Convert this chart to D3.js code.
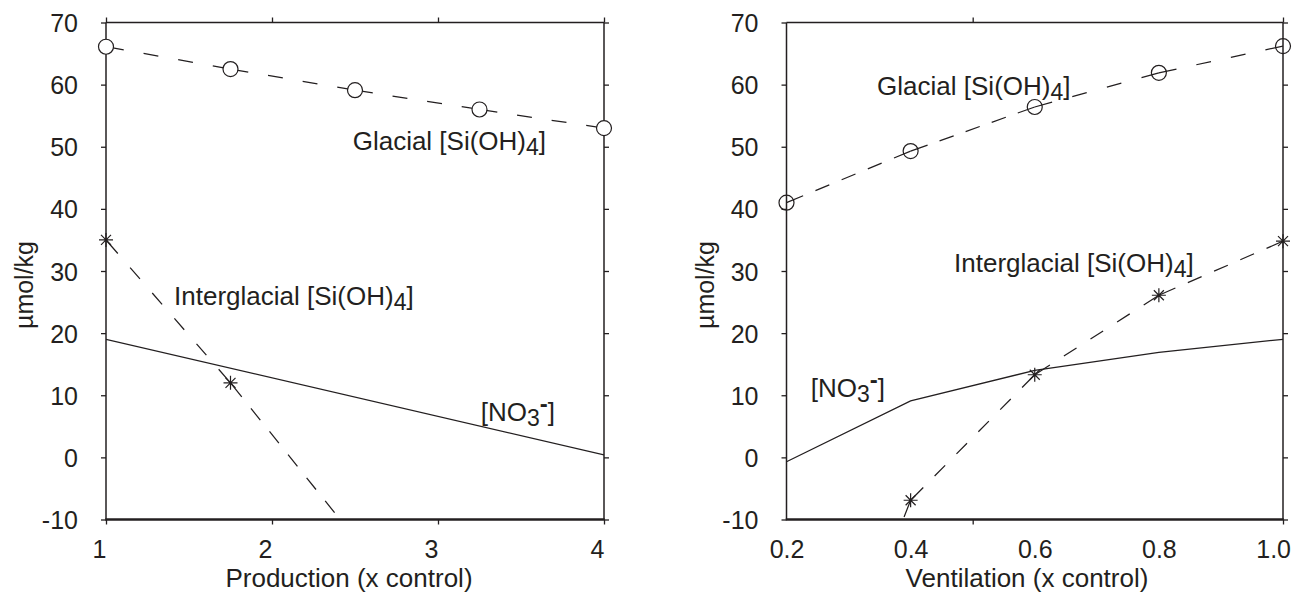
<!DOCTYPE html>
<html>
<head>
<meta charset="utf-8">
<script src="https://cdn.jsdelivr.net/npm/d3@7"></script>
<style>
  html, body { margin: 0; padding: 0; background: #fff; }
  svg { display: block; }
  text { font-family: "Liberation Sans", Arial, Helvetica, sans-serif; fill: #231f20; }
</style>
</head>
<body>
<svg id="chart" width="1292" height="594"></svg>
<script>
// ---- Production experiment ----
const productionX = [1, 1.75, 2.5, 3.25, 4];
const prodGlacial = [66.1, 62.5, 59.1, 56.0, 53.0];
const prodInterglacialX = [1, 1.75, 2.5];
const prodInterglacial = [35, 12, -13];
const prodNitrateX = [1, 4];
const prodNitrate = [19, 0.4];
const prodTicks = [1, 2, 3, 4];

// ---- Ventilation experiment ----
const ventilationX = [0.2, 0.4, 0.6, 0.8, 1.0];
const ventGlacial = [41.0, 49.3, 56.4, 61.9, 66.2];
const ventInterglacial = [-58, -6.9, 13.3, 26.1, 34.8];
const ventNitrate = [-0.7, 9.1, 14.0, 16.9, 19.0];
const ventTickLabels = [0.2, 0.4, 0.6, 0.8, 1.0];
const ventTickMarks = [0.5, 1.0];

// ---- shared concentration axis ----
const yTicks = [-10, 0, 10, 20, 30, 40, 50, 60, 70];
const yDomain = [-10, 70];
const yTitle = "\u00b5mol/kg";

// curve labels: text pieces (plain / sub / sup) placed in data coordinates
const siLabel = (prefix) => [[prefix + " [Si(OH)", ""], ["4", "sub"], ["]", "back"]];
const no3Label = [["[NO", ""], ["3", "sub"], ["-", "sup"], ["]", "back2"]];
const prodLabels = [
  { parts: siLabel("Glacial"), x: 2.486, y: 49.4 },
  { parts: siLabel("Interglacial"), x: 1.41, y: 24.5 },
  { parts: no3Label, x: 3.257, y: 5.9 }
];
const ventLabels = [
  { parts: siLabel("Glacial"), x: 0.346, y: 58.3 },
  { parts: siLabel("Interglacial"), x: 0.470, y: 29.9 },
  { parts: no3Label, x: 0.239, y: 9.7 }
];

const ink = "#231f20";
const TOP = 22.5, BOTTOM = 519.5, WIDTH = 1292;
const svg = d3.select("#chart");
const hyphenMinus = f => v => f(v).replace("\u2212", "-");

const panels = [
  {
    id: "prod", left: 106, right: 604, xDomain: [1, 4],
    tickMarks: prodTicks, tickLabels: prodTicks, fmt: d3.format("d"), labelShift: -7,
    title: "Production (x control)", titleX: 349, yTitleX: 33,
    markerFill: "#fff",
    series: [
      { x: productionX, y: prodGlacial, dashed: true, marker: "circle" },
      { x: prodInterglacialX, y: prodInterglacial, dashed: true, marker: "star" },
      { x: prodNitrateX, y: prodNitrate, dashed: false, marker: null }
    ],
    labels: prodLabels
  },
  {
    id: "vent", left: 786.5, right: 1283, xDomain: [0.2, 1.0],
    tickMarks: ventTickMarks, tickLabels: ventTickLabels, fmt: d3.format(".1f"), labelShift: 0,
    title: "Ventilation (x control)", titleX: 1027, yTitleX: 713.5,
    markerFill: "none",
    series: [
      { x: ventilationX, y: ventGlacial, dashed: true, marker: "circle" },
      { x: ventilationX, y: ventInterglacial, dashed: true, marker: "star" },
      { x: ventilationX, y: ventNitrate, dashed: false, marker: null }
    ],
    labels: ventLabels
  }
];

// dash pattern for one segment: a dash centred on each vertex, even dashes between
function segmentDash(L) {
  const h = 18, d = 15, g0 = 16;
  if (L < 2 * h + g0) return null;
  const k = Math.max(1, Math.round((L - 2 * h + d) / (d + g0)));
  const g = (L - 2 * h - (k - 1) * d) / k;
  if (g <= 2) return null;
  const arr = [h];
  for (let i = 0; i < k; i++) { arr.push(g); if (i < k - 1) arr.push(d); }
  arr.push(h, L + 10);
  return arr.map(v => v.toFixed(2)).join(" ");
}

panels.forEach(p => {
  const x = d3.scaleLinear().domain(p.xDomain).range([p.left, p.right]);
  const y = d3.scaleLinear().domain(yDomain).range([BOTTOM, TOP]);
  const g = svg.append("g").attr("class", "panel-" + p.id);

  const clipId = "clip-" + p.id;
  svg.append("defs").append("clipPath").attr("id", clipId)
    .append("rect")
    .attr("x", p.left).attr("y", TOP)
    .attr("width", p.right - p.left).attr("height", BOTTOM - TOP);

  // ---- tick marks (outward on all four sides) ----
  const tickStyle = sel => {
    sel.select(".domain").remove();
    sel.selectAll(".tick line").attr("stroke", ink).attr("stroke-width", 1.3);
  };
  g.append("g").attr("transform", `translate(0,${BOTTOM})`)
    .call(d3.axisBottom(x).tickValues(p.tickMarks).tickSize(5).tickFormat(""))
    .call(tickStyle);
  g.append("g").attr("transform", `translate(0,${TOP})`)
    .call(d3.axisTop(x).tickValues(p.tickMarks).tickSize(5).tickFormat(""))
    .call(tickStyle);
  g.append("g").attr("transform", `translate(${p.left},0)`)
    .call(d3.axisLeft(y).tickValues(yTicks).tickSize(5)
      .tickFormat(hyphenMinus(d3.format("d"))).tickPadding(23))
    .call(tickStyle)
    .call(a => a.selectAll(".tick text")
      .attr("font-size", 25).attr("dy", "0.36em")
      .style("font-family", '"Liberation Sans", Arial, sans-serif').attr("fill", ink));
  g.append("g").attr("transform", `translate(${p.right},0)`)
    .call(d3.axisRight(y).tickValues(yTicks).tickSize(5).tickFormat(""))
    .call(tickStyle);

  // ---- x tick labels ----
  g.append("g").attr("transform", `translate(0,${BOTTOM})`)
    .call(d3.axisBottom(x).tickValues(p.tickLabels).tickSize(0).tickPadding(20.5).tickFormat(p.fmt))
    .call(a => a.select(".domain").remove())
    .call(a => a.selectAll(".tick line").remove())
    .call(a => a.selectAll(".tick text")
      .attr("font-size", 25).attr("dx", p.labelShift)
      .style("font-family", '"Liberation Sans", Arial, sans-serif').attr("fill", ink)
      .each(function () {
        // keep a label at the page edge inside the page
        const node = this, box = node.getBBox();
        const tx = +node.parentNode.getAttribute("transform").match(/translate\(([-\d.]+)/)[1];
        const overflow = tx + box.x + box.width - (WIDTH - 1);
        if (overflow > 0) d3.select(node).attr("dx", p.labelShift - overflow);
      }));

  // ---- frame ----
  const frame = g.append("g").attr("stroke", ink).attr("fill", "none");
  frame.append("line").attr("x1", p.left).attr("x2", p.right).attr("y1", TOP).attr("y2", TOP).attr("stroke-width", 1.5);
  frame.append("line").attr("x1", p.left).attr("x2", p.left).attr("y1", TOP).attr("y2", BOTTOM).attr("stroke-width", 1.5);
  frame.append("line").attr("x1", p.right).attr("x2", p.right).attr("y1", TOP).attr("y2", BOTTOM).attr("stroke-width", 1.5);
  frame.append("line").attr("x1", p.left - 0.75).attr("x2", p.right + 0.75).attr("y1", BOTTOM).attr("y2", BOTTOM).attr("stroke-width", 2.4);

  // ---- curves (clipped) and markers (drawn whole when inside the y range) ----
  const plot = g.append("g").attr("clip-path", `url(#${clipId})`);
  const marks = g.append("g");
  p.series.forEach(s => {
    const pts = s.x.map((xv, i) => [x(xv), y(s.y[i]), s.y[i]]);
    if (s.dashed) {
      for (let i = 0; i < pts.length - 1; i++) {
        const a = pts[i].slice(0, 2), b = pts[i + 1].slice(0, 2);
        const L = Math.hypot(b[0] - a[0], b[1] - a[1]);
        const dash = segmentDash(L);
        const path = plot.append("path")
          .attr("d", d3.line()([a, b]))
          .attr("fill", "none").attr("stroke", ink).attr("stroke-width", 1.25);
        if (dash) path.attr("stroke-dasharray", dash);
      }
    } else {
      plot.append("path")
        .attr("d", d3.line()(pts.map(d => d.slice(0, 2))))
        .attr("fill", "none").attr("stroke", ink).attr("stroke-width", 1.25);
    }
    const shown = pts.filter(d => d[2] >= yDomain[0] && d[2] <= yDomain[1]);
    if (s.marker === "circle") {
      marks.selectAll(null).data(shown).enter().append("circle")
        .attr("cx", d => d[0]).attr("cy", d => d[1]).attr("r", 7.5)
        .attr("fill", p.markerFill).attr("stroke", ink).attr("stroke-width", 1.2);
    } else if (s.marker === "star") {
      const r = 7, q = 5;
      const star = `M${-r},0L${r},0M0,${-r}L0,${r}M${-q},${-q}L${q},${q}M${-q},${q}L${q},${-q}`;
      marks.selectAll(null).data(shown).enter().append("path")
        .attr("transform", d => `translate(${d[0]},${d[1]})`)
        .attr("d", star).attr("fill", "none").attr("stroke", ink).attr("stroke-width", 1.2);
    }
  });

  // ---- curve labels ----
  p.labels.forEach(lb => {
    const t = g.append("text")
      .attr("x", x(lb.x)).attr("y", y(lb.y))
      .attr("font-size", 26);
    lb.parts.forEach(([txt, kind]) => {
      const ts = t.append("tspan").text(txt);
      if (kind === "sub") ts.attr("dy", 5).attr("font-size", 23);
      else if (kind === "back") ts.attr("dy", -5);
      else if (kind === "sup") ts.attr("dy", -14).attr("font-size", 24).attr("font-weight", "bold");
      else if (kind === "back2") ts.attr("dy", 9);
    });
  });

  // ---- axis titles ----
  g.append("text")
    .attr("x", p.titleX).attr("y", 587)
    .attr("text-anchor", "middle").attr("font-size", 26)
    .text(p.title);
  g.append("text")
    .attr("transform", `translate(${p.yTitleX},285) rotate(-90)`)
    .attr("text-anchor", "middle").attr("font-size", 25)
    .text(yTitle);
});
</script>
</body>
</html>
